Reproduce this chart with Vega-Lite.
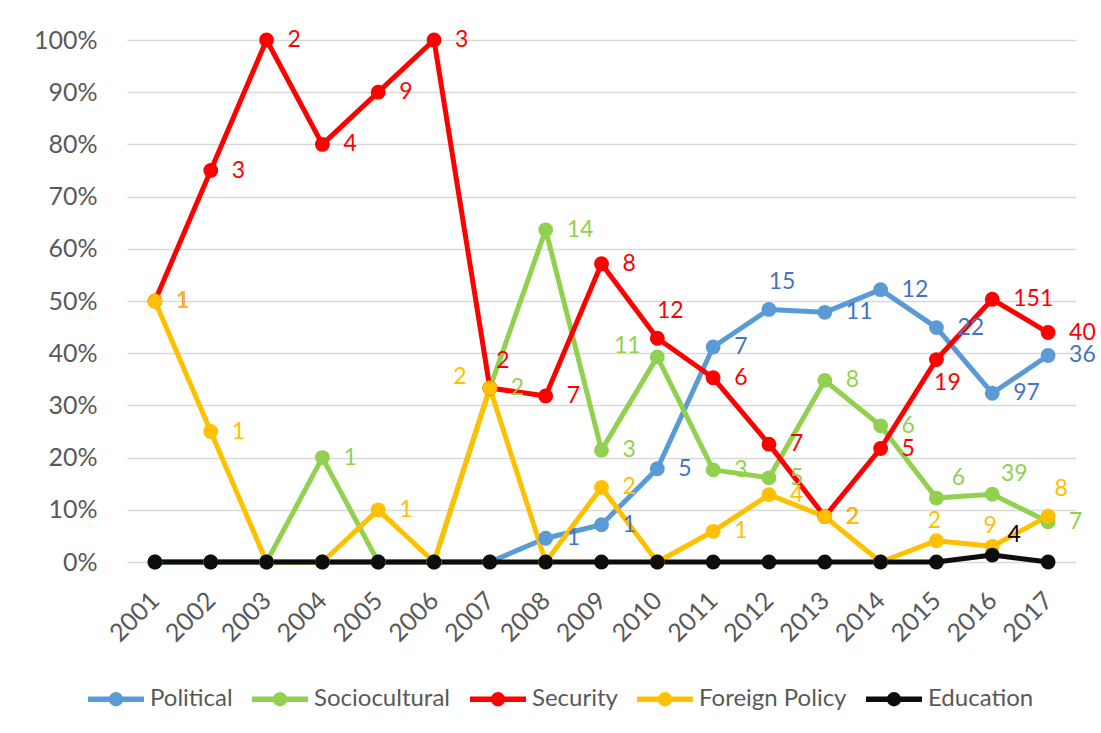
{
  "$schema": "https://vega.github.io/schema/vega-lite/v6.json",
  "autosize": "none",
  "width": 949,
  "height": 522,
  "padding": {"left": 127, "top": 40, "right": 25, "bottom": 171},
  "background": "white",
  "config": {
    "view": {"stroke": null},
    "font": "Lato",
    "axis": {"labelFont": "Lato", "labelColor": "#595959", "labelFontSize": 25, "domain": false, "ticks": false, "title": null},
    "legend": {"labelFont": "Lato", "labelColor": "#595959", "labelFontSize": 24},
    "text": {"font": "Lato", "fontSize": 23, "baseline": "middle"}
  },
  "data": {
    "values": [
      {"year": "2001", "series": "Political", "share": 0, "n": null},
      {"year": "2002", "series": "Political", "share": 0, "n": null},
      {"year": "2003", "series": "Political", "share": 0, "n": null},
      {"year": "2004", "series": "Political", "share": 0, "n": null},
      {"year": "2005", "series": "Political", "share": 0, "n": null},
      {"year": "2006", "series": "Political", "share": 0, "n": null},
      {"year": "2007", "series": "Political", "share": 0, "n": null},
      {"year": "2008", "series": "Political", "share": 0.0455, "n": 1},
      {"year": "2009", "series": "Political", "share": 0.0714, "n": 1},
      {"year": "2010", "series": "Political", "share": 0.1786, "n": 5},
      {"year": "2011", "series": "Political", "share": 0.4118, "n": 7},
      {"year": "2012", "series": "Political", "share": 0.4839, "n": 15},
      {"year": "2013", "series": "Political", "share": 0.4783, "n": 11},
      {"year": "2014", "series": "Political", "share": 0.5217, "n": 12},
      {"year": "2015", "series": "Political", "share": 0.449, "n": 22},
      {"year": "2016", "series": "Political", "share": 0.3233, "n": 97},
      {"year": "2017", "series": "Political", "share": 0.3956, "n": 36},

      {"year": "2001", "series": "Sociocultural", "share": 0, "n": null},
      {"year": "2002", "series": "Sociocultural", "share": 0, "n": null},
      {"year": "2003", "series": "Sociocultural", "share": 0, "n": null},
      {"year": "2004", "series": "Sociocultural", "share": 0.2, "n": 1},
      {"year": "2005", "series": "Sociocultural", "share": 0, "n": null},
      {"year": "2006", "series": "Sociocultural", "share": 0, "n": null},
      {"year": "2007", "series": "Sociocultural", "share": 0.3333, "n": 2},
      {"year": "2008", "series": "Sociocultural", "share": 0.6364, "n": 14},
      {"year": "2009", "series": "Sociocultural", "share": 0.2143, "n": 3},
      {"year": "2010", "series": "Sociocultural", "share": 0.3929, "n": 11},
      {"year": "2011", "series": "Sociocultural", "share": 0.1765, "n": 3},
      {"year": "2012", "series": "Sociocultural", "share": 0.1613, "n": 5},
      {"year": "2013", "series": "Sociocultural", "share": 0.3478, "n": 8},
      {"year": "2014", "series": "Sociocultural", "share": 0.2609, "n": 6},
      {"year": "2015", "series": "Sociocultural", "share": 0.1224, "n": 6},
      {"year": "2016", "series": "Sociocultural", "share": 0.13, "n": 39},
      {"year": "2017", "series": "Sociocultural", "share": 0.0769, "n": 7},

      {"year": "2001", "series": "Security", "share": 0.5, "n": 1},
      {"year": "2002", "series": "Security", "share": 0.75, "n": 3},
      {"year": "2003", "series": "Security", "share": 1.0, "n": 2},
      {"year": "2004", "series": "Security", "share": 0.8, "n": 4},
      {"year": "2005", "series": "Security", "share": 0.9, "n": 9},
      {"year": "2006", "series": "Security", "share": 1.0, "n": 3},
      {"year": "2007", "series": "Security", "share": 0.3333, "n": 2},
      {"year": "2008", "series": "Security", "share": 0.3182, "n": 7},
      {"year": "2009", "series": "Security", "share": 0.5714, "n": 8},
      {"year": "2010", "series": "Security", "share": 0.4286, "n": 12},
      {"year": "2011", "series": "Security", "share": 0.3529, "n": 6},
      {"year": "2012", "series": "Security", "share": 0.2258, "n": 7},
      {"year": "2013", "series": "Security", "share": 0.087, "n": 2},
      {"year": "2014", "series": "Security", "share": 0.2174, "n": 5},
      {"year": "2015", "series": "Security", "share": 0.3878, "n": 19},
      {"year": "2016", "series": "Security", "share": 0.5033, "n": 151},
      {"year": "2017", "series": "Security", "share": 0.4396, "n": 40},

      {"year": "2001", "series": "Foreign Policy", "share": 0.5, "n": 1},
      {"year": "2002", "series": "Foreign Policy", "share": 0.25, "n": 1},
      {"year": "2003", "series": "Foreign Policy", "share": 0, "n": null},
      {"year": "2004", "series": "Foreign Policy", "share": 0, "n": null},
      {"year": "2005", "series": "Foreign Policy", "share": 0.1, "n": 1},
      {"year": "2006", "series": "Foreign Policy", "share": 0, "n": null},
      {"year": "2007", "series": "Foreign Policy", "share": 0.3333, "n": 2},
      {"year": "2008", "series": "Foreign Policy", "share": 0, "n": null},
      {"year": "2009", "series": "Foreign Policy", "share": 0.1429, "n": 2},
      {"year": "2010", "series": "Foreign Policy", "share": 0, "n": null},
      {"year": "2011", "series": "Foreign Policy", "share": 0.0588, "n": 1},
      {"year": "2012", "series": "Foreign Policy", "share": 0.129, "n": 4},
      {"year": "2013", "series": "Foreign Policy", "share": 0.087, "n": 2},
      {"year": "2014", "series": "Foreign Policy", "share": 0, "n": null},
      {"year": "2015", "series": "Foreign Policy", "share": 0.0408, "n": 2},
      {"year": "2016", "series": "Foreign Policy", "share": 0.03, "n": 9},
      {"year": "2017", "series": "Foreign Policy", "share": 0.0879, "n": 8},

      {"year": "2001", "series": "Education", "share": 0, "n": null},
      {"year": "2002", "series": "Education", "share": 0, "n": null},
      {"year": "2003", "series": "Education", "share": 0, "n": null},
      {"year": "2004", "series": "Education", "share": 0, "n": null},
      {"year": "2005", "series": "Education", "share": 0, "n": null},
      {"year": "2006", "series": "Education", "share": 0, "n": null},
      {"year": "2007", "series": "Education", "share": 0, "n": null},
      {"year": "2008", "series": "Education", "share": 0, "n": null},
      {"year": "2009", "series": "Education", "share": 0, "n": null},
      {"year": "2010", "series": "Education", "share": 0, "n": null},
      {"year": "2011", "series": "Education", "share": 0, "n": null},
      {"year": "2012", "series": "Education", "share": 0, "n": null},
      {"year": "2013", "series": "Education", "share": 0, "n": null},
      {"year": "2014", "series": "Education", "share": 0, "n": null},
      {"year": "2015", "series": "Education", "share": 0, "n": null},
      {"year": "2016", "series": "Education", "share": 0.0133, "n": 4},
      {"year": "2017", "series": "Education", "share": 0, "n": null}
    ]
  },
  "encoding": {
    "x": {
      "field": "year", "type": "ordinal",
      "scale": {"type": "point", "padding": 0.5},
      "axis": {"labelAngle": -45, "labelAlign": "right", "labelBaseline": "middle", "labelPadding": 34}
    },
    "y": {
      "field": "share", "type": "quantitative",
      "scale": {"domain": [0, 1]},
      "axis": {"values": [0, 0.1, 0.2, 0.3, 0.4, 0.5, 0.6, 0.7, 0.8, 0.9, 1.0], "format": ".0%", "grid": true, "gridColor": "#d9d9d9", "gridWidth": 1.5, "labelPadding": 30}
    }
  },
  "layer": [
    {
      "mark": {"type": "line", "strokeWidth": 5, "strokeJoin": "round", "strokeCap": "round", "point": {"filled": true, "size": 220, "opacity": 1}},
      "encoding": {
        "color": {
          "field": "series", "type": "nominal",
          "scale": {"domain": ["Political", "Sociocultural", "Security", "Foreign Policy", "Education"], "range": ["#5B9BD5", "#92D050", "#FF0000", "#FFC000", "#0d0d0d"]},
          "legend": {
            "title": null, "orient": "none", "direction": "horizontal",
            "legendX": -42, "legendY": 628,
            "symbolType": "M-1,0H1M-0.16,0A0.16,0.16,0,1,0,0.16,0A0.16,0.16,0,1,0,-0.16,0",
            "symbolSize": 3136, "symbolStrokeWidth": 5.5, "symbolFillColor": "transparent",
            "labelOffset": 3, "columnPadding": 8, "labelLimit": 300
          }
        }
      }
    },
    {
      "transform": [{"filter": "datum.n != null"}],
      "encoding": {
        "text": {"field": "n", "type": "quantitative"},
        "fill": {
          "field": "series", "type": "nominal",
          "scale": {"domain": ["Political", "Sociocultural", "Security", "Foreign Policy", "Education"], "range": ["#4472C4", "#92D050", "#FF0000", "#FFC000", "#000000"]},
          "legend": null
        }
      },
      "layer": [
        {
          "transform": [{"filter": "indexof(['Political2012','Foreign Policy2017','Security2010','Security2007','Sociocultural2016','Sociocultural2015','Education2016','Foreign Policy2016','Foreign Policy2015','Sociocultural2010','Foreign Policy2007','Security2015'], datum.series + datum.year) < 0"}],
          "mark": {"type": "text", "align": "left", "dx": 21}
        },
        {
          "transform": [{"filter": "indexof(['Political2012','Foreign Policy2017','Security2010','Security2007'], datum.series + datum.year) >= 0"}],
          "mark": {"type": "text", "align": "center", "dx": 13, "dy": -27}
        },
        {
          "transform": [{"filter": "indexof(['Sociocultural2016','Sociocultural2015','Education2016'], datum.series + datum.year) >= 0"}],
          "mark": {"type": "text", "align": "center", "dx": 22, "dy": -20}
        },
        {
          "transform": [{"filter": "indexof(['Foreign Policy2016','Foreign Policy2015'], datum.series + datum.year) >= 0"}],
          "mark": {"type": "text", "align": "center", "dx": -2, "dy": -20}
        },
        {
          "transform": [{"filter": "indexof(['Sociocultural2010','Foreign Policy2007'], datum.series + datum.year) >= 0"}],
          "mark": {"type": "text", "align": "center", "dx": -30, "dy": -11}
        },
        {
          "transform": [{"filter": "indexof(['Security2015'], datum.series + datum.year) >= 0"}],
          "mark": {"type": "text", "align": "center", "dx": 11, "dy": 23}
        }
      ]
    }
  ]
}
